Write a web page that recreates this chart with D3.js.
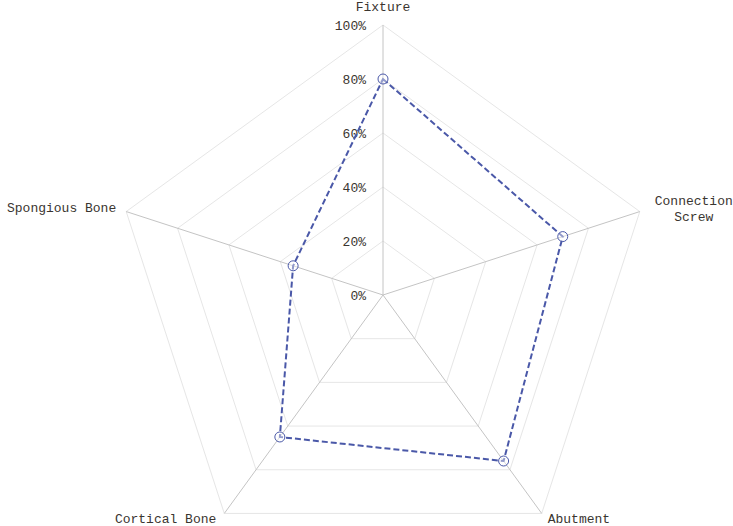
<!DOCTYPE html>
<html>
<head>
<meta charset="utf-8">
<script src="https://cdn.jsdelivr.net/npm/d3@7"></script>
<style>
  body { margin: 0; background: #fff; }
  text { font-family: "Liberation Mono", "Courier New", monospace; font-size: 13px; fill: #3a3530; }
</style>
</head>
<body>
<svg width="733" height="526"></svg>
<script>
const categories = ["Fixture", "Connection Screw", "Abutment", "Cortical Bone", "Spongious Bone"];
const values = [0.80, 0.70, 0.76, 0.65, 0.35];
const tickValues = [0, 0.2, 0.4, 0.6, 0.8, 1.0];
const tickLabels = ["0%", "20%", "40%", "60%", "80%", "100%"];

const svg = d3.select("svg"),
    cx = 383, cy = 295, radius = 270;

const rScale = d3.scaleLinear().domain([0, 1]).range([0, radius]);
const angle = i => -Math.PI / 2 + i * 2 * Math.PI / categories.length;
const pt = (i, v) => [cx + rScale(v) * Math.cos(angle(i)), cy + rScale(v) * Math.sin(angle(i))];

const g = svg.append("g");

// grid rings
g.selectAll(".ring")
    .data(tickValues.slice(1))
    .enter()
    .append("polygon")
    .attr("points", t => categories.map((c, i) => pt(i, t).join(",")).join(" "))
    .attr("fill", "none")
    .attr("stroke", "#e6e6e6")
    .attr("stroke-width", 1);

// spokes
g.selectAll(".spoke")
    .data(categories)
    .enter()
    .append("line")
    .attr("x1", cx).attr("y1", cy)
    .attr("x2", (d, i) => pt(i, 1)[0])
    .attr("y2", (d, i) => pt(i, 1)[1])
    .attr("stroke", "#c4c4c4")
    .attr("stroke-width", 1);

// tick labels
g.selectAll(".tick")
    .data(tickValues)
    .enter()
    .append("text")
    .attr("x", cx - 17)
    .attr("y", t => cy - rScale(t))
    .attr("dy", "0.35em")
    .attr("text-anchor", "end")
    .text((t, i) => tickLabels[i]);

// category labels
const labelPos = [
    {dx: 0, dy: -19, anchor: "middle", lines: ["Fixture"]},
    {dx: 54, dy: -11, anchor: "middle", lines: ["Connection", "Screw"]},
    {dx: 6, dy: 5, anchor: "start", lines: ["Abutment"]},
    {dx: -8, dy: 5, anchor: "end", lines: ["Cortical Bone"]},
    {dx: -10, dy: -4, anchor: "end", lines: ["Spongious Bone"]}
];
categories.forEach((c, i) => {
    const p = pt(i, 1), lp = labelPos[i];
    const t = g.append("text")
        .attr("x", p[0] + lp.dx)
        .attr("y", p[1] + lp.dy)
        .attr("text-anchor", lp.anchor);
    lp.lines.forEach((l, k) => {
        t.append("tspan")
            .attr("x", p[0] + lp.dx)
            .attr("dy", k === 0 ? "0.35em" : "16px")
            .text(l);
    });
});

// series
const line = d3.line().curve(d3.curveLinearClosed);
g.append("path")
    .attr("d", line(values.map((v, i) => pt(i, v))))
    .attr("fill", "none")
    .attr("stroke", "#4a58a8")
    .attr("stroke-width", 2)
    .attr("stroke-dasharray", "6,3");

g.selectAll(".pt")
    .data(values)
    .enter()
    .append("circle")
    .attr("cx", (v, i) => pt(i, v)[0])
    .attr("cy", (v, i) => pt(i, v)[1])
    .attr("r", 5)
    .attr("fill", "rgba(255,255,255,0.4)")
    .attr("stroke", "#4a58a8")
    .attr("stroke-width", 1);
</script>
</body>
</html>
